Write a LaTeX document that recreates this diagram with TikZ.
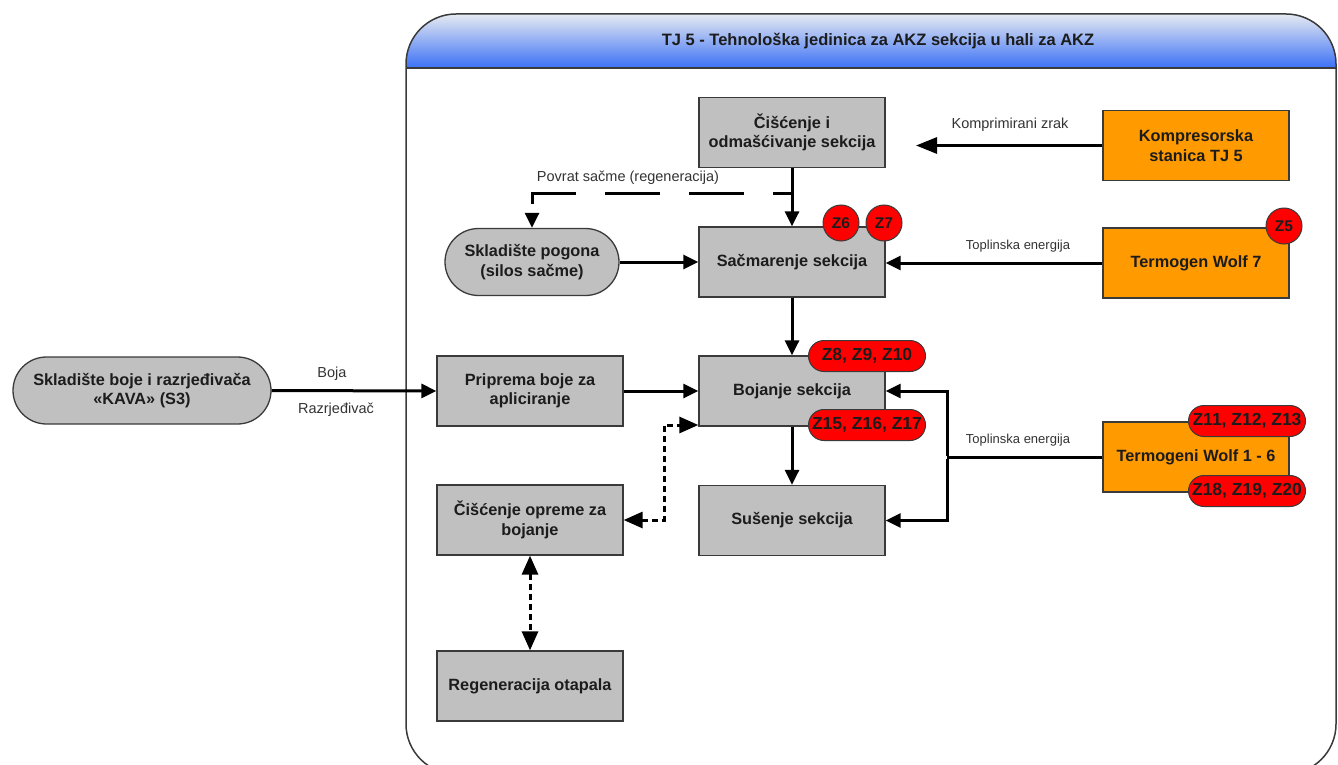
\documentclass[tikz,border=0pt]{standalone}
\usepackage{fontspec}
\setmainfont{Liberation Sans}
\usetikzlibrary{arrows.meta,shapes.misc}

\definecolor{boxgray}{HTML}{C0C0C0}
\definecolor{heatorange}{HTML}{FF9A00}
\definecolor{edgegray}{HTML}{3A3A3A}
\definecolor{hdrtop}{HTML}{E6EAF1}
\definecolor{hdrbot}{HTML}{3B70F6}
\definecolor{inktext}{HTML}{1C1C1C}
\definecolor{lbltext}{HTML}{333333}

\begin{document}
\begin{tikzpicture}[x=1pt,y=-1pt,
  boxfont/.style={font=\bfseries\fontsize{16.3}{19.5}\selectfont},
  proc/.style={draw=edgegray, line width=1.3pt, fill=boxgray, text=inktext,
    minimum width=186pt, minimum height=70pt, align=center, inner sep=2pt, boxfont},
  src/.style={proc, fill=heatorange},
  store/.style={rounded rectangle, draw=edgegray, line width=1.3pt, fill=boxgray,
    text=inktext, minimum height=67pt, align=center, inner sep=2pt, boxfont},
  badge/.style={circle, draw=edgegray, line width=1pt, fill=red, text=inktext,
    minimum size=36pt, inner sep=0pt, font=\bfseries\fontsize{15.5}{18}\selectfont},
  tag/.style={rounded rectangle, draw=edgegray, line width=1pt, fill=red, text=inktext,
    minimum width=117pt, minimum height=31pt, inner sep=0pt,
    font=\bfseries\fontsize{17.5}{19}\selectfont},
  lbl/.style={text=lbltext, inner sep=0pt, font=\fontsize{14.5}{16}\selectfont},
  smalllbl/.style={lbl, font=\fontsize{13}{15}\selectfont},
  flow/.style={line width=3pt, -{Triangle[length=15pt,width=14pt]}},
  bigflow/.style={line width=3pt, -{Triangle[length=21pt,width=16pt]}},
  pipe/.style={line width=3pt},
  returnflow/.style={line width=3pt, dash pattern=on 55pt off 29pt, dash phase=36pt,
    -{Triangle[length=15pt,width=14pt]}},
  dotflow/.style={line width=3pt, dash pattern=on 6pt off 4pt,
    {Triangle[length=19pt,width=16pt]}-{Triangle[length=19pt,width=16pt]}}
]
\useasboundingbox (0,0) rectangle (1338,765);

% unit container with its shaded title band
\begin{scope}
  \clip (0,0) rectangle (1338,765);
  \begin{scope}
    \clip[rounded corners=50pt] (406,14) rectangle (1336,774);
    \fill[white] (406,14) rectangle (1336,774);
    \shade[top color=hdrtop, bottom color=hdrbot] (406,14) rectangle (1336,68);
  \end{scope}
  \draw[edgegray, line width=2pt] (406,68) -- (1336,68);
  \draw[edgegray, line width=1.5pt, rounded corners=50pt] (406,14) rectangle (1336,774);
\end{scope}
\node[text=inktext, font=\bfseries\fontsize{16.5}{18}\selectfont] (title) at (878,41)
  {TJ 5 - Tehnološka jedinica za AKZ sekcija u hali za AKZ};

% process steps
\node[proc] (clean) at (792,132.5) {Čišćenje i\\odmašćivanje sekcija};
\node[src] (comp) at (1196,145.5) {Kompresorska\\stanica TJ 5};
\node[proc] (blast) at (792,262) {Sačmarenje sekcija};
\node[src] (wolf7) at (1196,263) {Termogen Wolf 7};
\node[store, minimum width=178pt] (silo) at (532,262) {Skladište pogona\\(silos sačme)};
\node[proc] (prep) at (530,391) {Priprema boje za\\apliciranje};
\node[proc] (paint) at (792,391) {Bojanje sekcija};
\node[proc] (dry) at (792,520.5) {Sušenje sekcija};
\node[src] (wolf16) at (1196,457) {Termogeni Wolf 1 - 6};
\node[proc] (eqclean) at (530,520) {Čišćenje opreme za\\bojanje};
\node[proc] (regen) at (530,686) {Regeneracija otapala};
\node[store, minimum width=262pt] (kava) at (142,390.5) {Skladište boje i razrjeđivača\\«KAVA» (S3)};

% emission points
\node[badge] (z6) at (841,223) {Z6};
\node[badge] (z7) at (884,223) {Z7};
\node[badge] (z5) at (1284,226) {Z5};
\node[tag] (zpaintA) at (867,356) {Z8, Z9, Z10};
\node[tag] (zpaintB) at (867,425) {Z15, Z16, Z17};
\node[tag] (zheatA) at (1247,421) {Z11, Z12, Z13};
\node[tag] (zheatB) at (1247,491) {Z18, Z19, Z20};

% connectors
\coordinate (airend) at (916,145.5);
\draw[bigflow] (comp.west) -- (airend);
\draw[flow] (wolf7.west) -- (wolf7.west -| blast.east);
\draw[flow] (clean.south) -- (blast.north);
\coordinate (junction) at (792,193);
\draw[returnflow] (junction) -| (silo.north);
\draw[flow] (silo.east) -- (blast.west);
\draw[flow] (blast.south) -- (paint.north);
\draw[flow] (prep.east) -- (paint.west);
\draw[flow] (kava.east) -- (prep.west);
\draw[flow] (paint.south) -- (dry.north);
\coordinate (heatsplit) at (947,457);
\draw[pipe] (wolf16.west) -- (heatsplit);
\draw[flow] ([yshift=1.5pt]heatsplit) |- (paint.east);
\draw[flow] ([yshift=-1.5pt]heatsplit) |- (dry.east);
\coordinate (dotbend) at (664,425);
\draw[dotflow] (eqclean.east) -| (dotbend) -- (dotbend -| paint.west);
\draw[dotflow] (eqclean.south) -- (regen.north);

% connector labels
\node[lbl] (lblair) at (1010,125) {Komprimirani zrak};
\node[smalllbl] (lblheatA) at (1018,246) {Toplinska energija};
\node[smalllbl] (lblheatB) at (1018,440) {Toplinska energija};
\node[lbl] (lblreturn) at (628,178) {Povrat sačme (regeneracija)};
\node[lbl] (lblpaint) at (332,374) {Boja};
\node[lbl] (lblthinner) at (336,410) {Razrjeđivač};
\end{tikzpicture}
\end{document}
